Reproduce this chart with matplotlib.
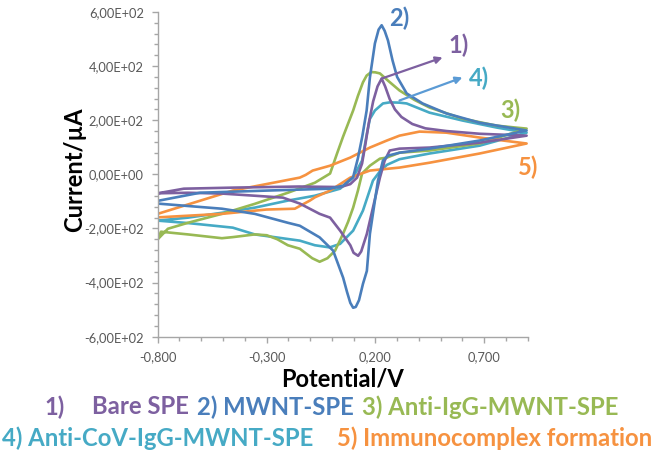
import matplotlib
matplotlib.use("Agg")
import matplotlib.pyplot as plt
from matplotlib.ticker import MultipleLocator, FixedLocator, FuncFormatter

# ---------------- data (potential V, current uA), closed CV loops ----------------
bare_v = [-0.80, -0.68, -0.45, -0.15, 0.04, 0.085, 0.116, 0.139, 0.155, 0.17, 0.19, 0.21, 0.229,
          0.245, 0.266, 0.29, 0.32, 0.37, 0.43, 0.527, 0.679, 0.895,
          0.679, 0.449, 0.311, 0.266, 0.243, 0.221, 0.189, 0.161, 0.135, 0.121, 0.10, 0.085, 0.038,
          -0.008, -0.056, -0.147, -0.225, -0.354, -0.505, -0.661, -0.80]
bare_i = [-70, -53, -49, -45, -47, -36, -12, 40, 115, 190, 270, 325, 354,
          325, 278, 240, 212, 186, 170, 160, 150, 143,
          117, 99, 95, 88, 51, -12, -123, -220, -285, -301, -290, -262, -208,
          -160, -146, -108, -86, -79, -71, -68, -70]

mwnt_v = [-0.80, -0.606, -0.30, -0.008, 0.052, 0.098, 0.12, 0.14, 0.16, 0.175, 0.198, 0.215, 0.229,
          0.243, 0.258, 0.279, 0.30, 0.344, 0.417, 0.527, 0.679, 0.895,
          0.679, 0.449, 0.311, 0.258, 0.235, 0.212, 0.198, 0.175, 0.161, 0.143, 0.125, 0.11, 0.098,
          0.085, 0.07, 0.052, 0.006, -0.056, -0.147, -0.202, -0.354, -0.505, -0.80]
mwnt_i = [-98, -68, -60, -53, -42, -10, 60, 140, 236, 358, 484, 535, 551,
          530, 495, 421, 360, 299, 262, 225, 191, 162,
          125, 95, 80, 69, 51, -23, -97, -220, -357, -405, -465, -490, -493,
          -475, -435, -382, -282, -233, -190, -179, -146, -127, -108]

antiigg_v = [-0.80, -0.753, -0.661, -0.505, -0.354, -0.202, -0.078, -0.008, 0.024, 0.052, 0.075, 0.098,
             0.12, 0.143, 0.16, 0.181, 0.20, 0.221, 0.26, 0.311, 0.38, 0.449, 0.60, 0.757, 0.895,
             0.679, 0.449, 0.311, 0.253, 0.221, 0.175, 0.139, 0.12, 0.098, 0.075, 0.052, 0.015, -0.02,
             -0.056, -0.09, -0.147, -0.202, -0.25, -0.299, -0.354, -0.455, -0.505, -0.661, -0.785, -0.80]
antiigg_i = [-240, -201, -179, -146, -109, -68, -31, 3, 77, 140, 188, 236,
             290, 340, 365, 378, 377, 373, 345, 310, 275, 247, 206, 180, 169,
             114, 88, 80, 62, 58, 32, 3, -60, -123, -175, -219, -282, -310,
             -323, -310, -275, -262, -240, -225, -222, -232, -236, -222, -212, -240]

anticov_v = [-0.80, -0.661, -0.505, -0.354, -0.202, -0.078, 0.038, 0.098, 0.139, 0.161, 0.175, 0.198,
             0.235, 0.266, 0.311, 0.344, 0.449, 0.60, 0.757, 0.895,
             0.679, 0.449, 0.311, 0.253, 0.22, 0.189, 0.143, 0.098, 0.038, -0.01, -0.078, -0.147,
             -0.354, -0.455, -0.661, -0.80]
anticov_i = [-171, -160, -142, -123, -97, -79, -53, -12, 51, 150, 205, 236,
             262, 266, 265, 262, 228, 199, 173, 154,
             106, 77, 56, 35, 10, -23, -134, -208, -257, -270, -262, -245,
             -222, -197, -180, -171]

immuno_v = [-0.80, -0.455, -0.147, -0.12, -0.10, -0.088, -0.008, 0.085, 0.175, 0.253, 0.311, 0.403,
            0.527, 0.679, 0.895,
            0.679, 0.449, 0.311, 0.175, 0.085, -0.008, -0.078, -0.101, -0.17, -0.30, -0.505, -0.80]
immuno_i = [-146, -60, -12, -2, 8, 14, 32, 62, 99, 125, 143, 158,
            154, 136, 114,
            77, 43, 25, 14, -12, -60, -85, -97, -127, -130, -146, -159]

legend_parts = ["1)", "Bare SPE", "2) MWNT-SPE", "3) Anti-IgG-MWNT-SPE",
                "4) Anti-CoV-IgG-MWNT-SPE", "5) Immunocomplex formation"]
short_labels = ["1)", "2)", "3)", "4)", "5)"]

y_ticks = [-600, -400, -200, 0, 200, 400, 600]
x_ticks = [-0.8, -0.3, 0.2, 0.7]

# ---------------- styling ----------------
c_purple = "#7D60A0"
c_blue = "#4A7EBB"
c_green = "#98B954"
c_cyan = "#46AAC5"
c_orange = "#F69240"
c_arrow4 = "#5B9BD5"

plt.rcParams["font.family"] = ["Lato", "DejaVu Sans"]

W, H = 653, 457
fig = plt.figure(figsize=(W / 100, H / 100), dpi=100)
ax = fig.add_axes([157.7 / W, 1 - 336.7 / H, 370 / W, (336.7 - 12) / H])

lw = 1.9
ax.plot(anticov_v, anticov_i, color=c_cyan, lw=lw, solid_joinstyle="round")
ax.plot(antiigg_v, antiigg_i, color=c_green, lw=lw, solid_joinstyle="round")
ax.plot(immuno_v, immuno_i, color=c_orange, lw=lw, solid_joinstyle="round")
ax.plot(bare_v, bare_i, color=c_purple, lw=lw, solid_joinstyle="round")
ax.plot(mwnt_v, mwnt_i, color=c_blue, lw=lw, solid_joinstyle="round")

ax.set_xlim(-0.8, 0.9)
ax.set_ylim(-600, 600)

for s in ["top", "right"]:
    ax.spines[s].set_visible(False)
for s in ["left", "bottom"]:
    ax.spines[s].set_color("#A6A6A6")
    ax.spines[s].set_linewidth(1.0)

ax.xaxis.set_major_locator(FixedLocator(x_ticks))
ax.xaxis.set_minor_locator(MultipleLocator(0.1))
ax.yaxis.set_major_locator(FixedLocator(y_ticks))
ax.yaxis.set_minor_locator(MultipleLocator(40))
ax.xaxis.set_major_formatter(FuncFormatter(lambda v, p: f"{v:.3f}".replace(".", ",")))
ax.yaxis.set_major_formatter(FuncFormatter(lambda v, p: f"{v:.2E}".replace(".", ",")))
ax.tick_params(axis="both", which="both", direction="out", color="#A6A6A6",
               labelcolor="#595959", labelsize=9.3)
ax.tick_params(axis="both", which="major", length=4, width=1)
ax.tick_params(axis="both", which="minor", length=3, width=1)
ax.tick_params(axis="y", which="major", pad=6)
ax.tick_params(axis="x", which="major", pad=6.5)

ax.set_xlabel("Potential/V", fontsize=17, fontweight="bold")
ax.xaxis.label.set_verticalalignment("center")
ax.xaxis.set_label_coords(0.5, (336.7 - 379) / 324.7)
ax.set_ylabel("Current/\u00b5A", fontsize=17, fontweight="bold")
ax.yaxis.label.set_verticalalignment("center")
ax.yaxis.set_label_coords((75 - 157.7) / 370, (336.7 - 170) / 324.7)

# curve annotations
lab_kw = dict(fontsize=17, fontweight="bold", ha="center", va="center", annotation_clip=False)
ax.annotate(short_labels[1], xy=(0.311, 577), color=c_blue, **lab_kw)
ax.annotate(short_labels[0], xy=(0.582, 477), color=c_purple, **lab_kw)
ax.annotate(short_labels[3], xy=(0.674, 354), color=c_cyan, **lab_kw)
ax.annotate(short_labels[2], xy=(0.821, 236), color=c_green, **lab_kw)
ax.annotate(short_labels[4], xy=(0.903, 25), color=c_orange, **lab_kw)

ax.annotate("", xy=(0.509, 432), xytext=(0.229, 354),
            arrowprops=dict(arrowstyle="-|>", color=c_purple, lw=1.6, mutation_scale=10,
                            shrinkA=0, shrinkB=0))
ax.annotate("", xy=(0.60, 358), xytext=(0.311, 273),
            arrowprops=dict(arrowstyle="-|>", color=c_arrow4, lw=1.6, mutation_scale=10,
                            shrinkA=0, shrinkB=0))

# legend text lines
leg_kw = dict(fontsize=17.2, fontweight="bold", va="center", ha="left")
y1 = 1 - 407 / H
y2 = 1 - 438 / H
fig.text(44 / W, y1, legend_parts[0], color=c_purple, **leg_kw)
fig.text(92 / W, y1, legend_parts[1], color=c_purple, **leg_kw)
fig.text(197 / W, y1, legend_parts[2], color=c_blue, **leg_kw)
fig.text(362 / W, y1, legend_parts[3], color=c_green, **leg_kw)
fig.text(2 / W, y2, legend_parts[4], color=c_cyan, **leg_kw)
fig.text(337 / W, y2, legend_parts[5], color=c_orange, **leg_kw)

fig.savefig("out.png", dpi=100)
